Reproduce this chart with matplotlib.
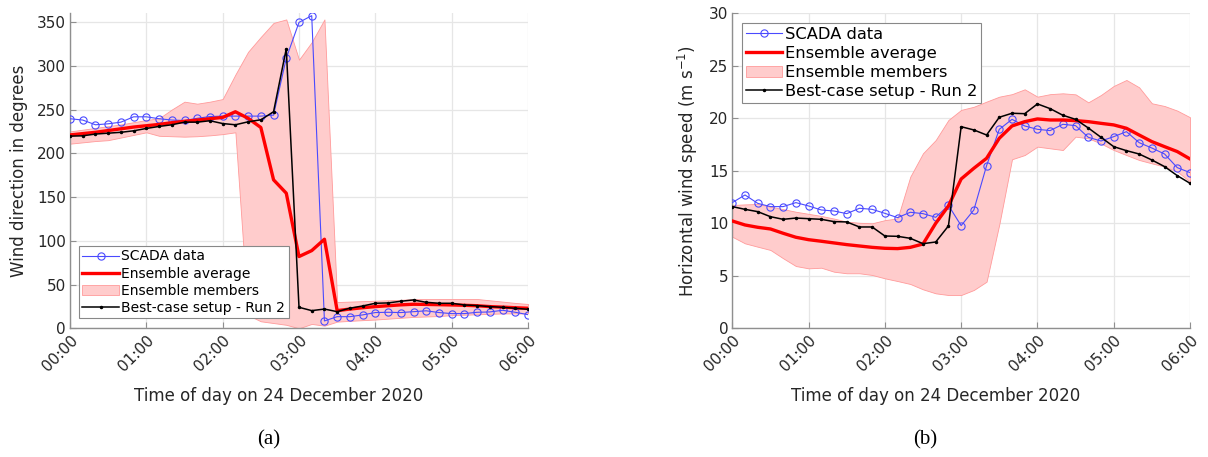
import numpy as np
import matplotlib
matplotlib.use("Agg")
import matplotlib.pyplot as plt

plt.rcParams["font.family"] = ["DejaVu Sans"]
plt.rcParams["mathtext.fontset"] = "dejavusans"

# time axis: every 10 minutes from 00:00 to 06:00 (in hours)
minutes = np.arange(0, 361, 10)
hours = minutes / 60.0
tick_hours = [0, 1, 2, 3, 4, 5, 6]
tick_labels = ["00:00", "01:00", "02:00", "03:00", "04:00", "05:00", "06:00"]

# ---------------- (a) wind direction ----------------
dir_scada = [239.5, 238, 232.6, 233.7, 235.6, 241.7, 241.7, 239.5, 238, 237.5,
             240, 242, 242.5, 242.5, 242.5, 242.5, 243.6, 308.8, 349.6, 357.3,
             8.4, 13.3, 13.3, 15.3, 18, 18.3, 18, 19, 20, 18,
             16.8, 16.8, 18.3, 18.7, 20.6, 18.3, 15.6]
dir_avg = [221, 222.5, 224, 226, 228, 230, 231.5, 233, 235, 236.5,
           238, 239.5, 241, 247.5, 240, 229.5, 169.7, 154.4, 82, 88.8,
           101.8, 20.2, 22, 23.5, 24.8, 25.8, 26.8, 27.5, 27.3, 27,
           26.7, 26.3, 25.8, 24.8, 24.2, 23.5, 22.9]
dir_run2 = [219.6, 220, 222, 223, 224, 225.7, 228.4, 230.7, 232.6, 235.6,
            235.6, 237.2, 234, 232.6, 236, 238.3, 247.5, 319.5, 24, 20.2,
            22, 19, 23, 25.5, 28.6, 29, 30.9, 32.4, 29.7, 28.6,
            28.6, 26.7, 26, 24.8, 24, 22.9, 21.7]
dir_upper = [225, 227, 229, 231, 233, 235.5, 238, 240, 250, 259,
             256.7, 259, 262, 290, 316, 333, 349, 353, 307, 327,
             353, 30, 30.5, 31, 31.5, 32, 32.5, 33.5, 33.5, 33.5,
             33.5, 33.5, 33.5, 32, 30.5, 29, 27.8]
dir_lower = [211, 212.5, 214, 215, 218, 221, 224, 220, 219.5, 219,
             219.5, 220.5, 221.9, 224, 15, 8, 6, 4, 0, 5,
             3, 7.6, 8.5, 9.3, 10, 11, 12, 13, 13.5, 14,
             15, 15.5, 16, 16.5, 17, 17, 17]

# ---------------- (b) wind speed ----------------
spd_scada = [11.97, 12.7, 11.9, 11.59, 11.59, 11.97, 11.65, 11.27, 11.17, 10.92,
             11.43, 11.33, 10.95, 10.54, 11.05, 10.92, 10.57, 11.71, 9.78, 11.27,
             15.49, 18.95, 19.9, 19.27, 18.95, 18.83, 19.43, 19.3, 18.19, 17.84,
             18.25, 18.73, 17.68, 17.17, 16.6, 15.3, 14.83]
spd_avg = [10.22, 9.84, 9.62, 9.46, 9.05, 8.67, 8.44, 8.29, 8.13, 7.97,
           7.84, 7.71, 7.62, 7.59, 7.71, 8.03, 10.0, 11.65, 14.22, 15.24,
           16.19, 18.1, 19.27, 19.68, 19.94, 19.84, 19.84, 19.78, 19.68, 19.52,
           19.37, 19.05, 18.41, 17.78, 17.3, 16.83, 16.13]
spd_run2 = [11.59, 11.33, 11.11, 10.63, 10.38, 10.5, 10.44, 10.38, 10.16, 10.13,
            9.65, 9.65, 8.79, 8.76, 8.57, 8.06, 8.22, 9.75, 19.2, 18.89,
            18.41, 20.1, 20.48, 20.44, 21.37, 20.92, 20.29, 19.9, 19.08, 18.19,
            17.3, 16.92, 16.6, 16.03, 15.4, 14.54, 13.81]
spd_upper = [11.74, 11.8, 11.84, 11.58, 11.35, 11.1, 10.9, 10.7, 10.45, 10.16,
             10.05, 10.0, 10.3, 10.47, 14.44, 16.67, 17.93, 19.84, 20.8, 21.1,
             21.59, 22.06, 22.3, 22.76, 22.06, 22.3, 22.38, 22.28, 21.52, 22.22,
             23.08, 23.65, 22.95, 21.43, 21.17, 20.73, 20.1]
spd_lower = [8.72, 8.09, 7.77, 7.46, 6.67, 5.93, 5.71, 5.77, 5.39, 5.24,
             5.24, 5.08, 4.76, 4.5, 4.22, 3.71, 3.33, 3.17, 3.17, 3.65,
             4.44, 9.9, 16.1, 16.5, 17.3, 17.14, 16.98, 18.25, 18.1, 17.6,
             16.98, 16.5, 16.03, 15.71, 15.4, 14.92, 13.97]

W, H = 1208, 457
fig = plt.figure(figsize=(W / 100, H / 100), dpi=100)

TXT = "#262626"
SPINE = "#8f8f8f"


def style_axes(ax, ylim, yticks):
    ax.set_xlim(0, 6)
    ax.set_ylim(*ylim)
    ax.set_yticks(yticks)
    ax.set_xticks(tick_hours)
    ax.set_xticklabels(tick_labels, rotation=45, ha="right",
                       rotation_mode="anchor")
    ax.grid(True, color="#e6e6e6", linewidth=0.9)
    ax.set_axisbelow(True)
    for s in ["top", "right"]:
        ax.spines[s].set_visible(False)
    for s in ["left", "bottom"]:
        ax.spines[s].set_color(SPINE)
        ax.spines[s].set_linewidth(1.0)
    ax.tick_params(direction="in", length=4, width=0.8, color=SPINE,
                   labelcolor=TXT, labelsize=11, pad=3)


def draw(ax, scada, avg, run2, lo, hi):
    l1, = ax.plot(hours, scada, color="#4a4aff", lw=0.8, marker="o",
                  ms=5.2, mfc="none", mec="#4a4aff", mew=0.8, zorder=3)
    f = ax.fill_between(hours, lo, hi, facecolor="#ffcccc",
                        edgecolor="#ff9a9a", linewidth=0.6, zorder=1)
    l2, = ax.plot(hours, avg, color="#ff0000", lw=2.4, zorder=4)
    l4, = ax.plot(hours, run2, color="black", lw=1.1, marker=".",
                  ms=3, zorder=5)
    return [l1, l2, f, l4]


labels = ["SCADA data", "Ensemble average", "Ensemble members",
          "Best-case setup - Run 2"]

# axes (a)
ax1 = fig.add_axes([70 / W, 1 - 328.3 / H, 458 / W, 315 / H])
h = draw(ax1, dir_scada, dir_avg, dir_run2, dir_lower, dir_upper)
style_axes(ax1, (0, 360), np.arange(0, 351, 50))
ax1.set_ylabel("Wind direction in degrees", fontsize=12, color=TXT)
ax1.set_xlabel("Time of day on 24 December 2020", fontsize=12, color=TXT)
ax1.xaxis.set_label_coords(0.456, -0.185)
ax1.yaxis.set_label_coords(-0.092, 0.5)
leg1 = fig.legend(h, labels, loc="upper left",
                  bbox_to_anchor=(79 / W, 1 - 246 / H), borderaxespad=0,
                  fontsize=10, frameon=True, fancybox=False,
                  edgecolor="#888888", framealpha=1, labelspacing=0.22,
                  handlelength=2.6, handletextpad=0.2, borderpad=0.25)
leg1.get_frame().set_linewidth(0.8)
for t in leg1.get_texts():
    t.set_color("black")

# axes (b)
ax2 = fig.add_axes([732.3 / W, 1 - 328.3 / H, 457.7 / W, 315 / H])
h = draw(ax2, spd_scada, spd_avg, spd_run2, spd_lower, spd_upper)
style_axes(ax2, (0, 30), np.arange(0, 31, 5))
ax2.set_ylabel(r"Horizontal wind speed (m s$^{-1}$)", fontsize=12, color=TXT)
ax2.set_xlabel("Time of day on 24 December 2020", fontsize=12, color=TXT)
ax2.xaxis.set_label_coords(0.444, -0.185)
ax2.yaxis.set_label_coords(-0.071, 0.5)
leg2 = fig.legend(h, labels, loc="upper left",
                  bbox_to_anchor=(741.7 / W, 1 - 22.7 / H), borderaxespad=0,
                  fontsize=11.7, frameon=True, fancybox=False,
                  edgecolor="#888888", framealpha=1, labelspacing=0.25,
                  handlelength=2.2, handletextpad=0.2, borderpad=0.25)
leg2.get_frame().set_linewidth(0.8)
for t in leg2.get_texts():
    t.set_color("black")

# captions
fig.text(269 / W, 1 - 440 / H, "(a)", ha="center", va="center",
         fontsize=15, family="Liberation Serif", color="black")
fig.text(925 / W, 1 - 440 / H, "(b)", ha="center", va="center",
         fontsize=15, family="Liberation Serif", color="black")

fig.savefig("out.png", dpi=100)
